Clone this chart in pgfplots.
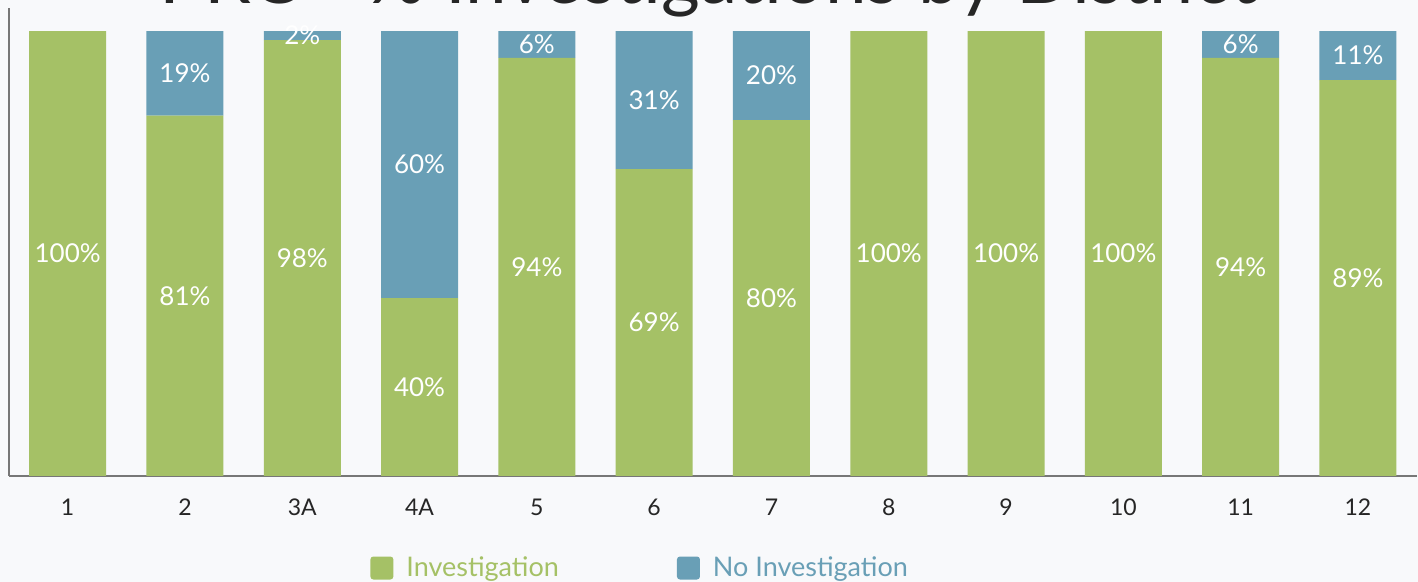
\documentclass[border=0pt]{standalone}
\usepackage{pgfplots}
\pgfplotsset{compat=1.18}
\usepackage{fontspec}
\setmainfont{Lato}
\definecolor{bgcol}{HTML}{F8F9FB}
\definecolor{invgreen}{HTML}{A5C166}
\definecolor{noblue}{HTML}{699FB6}
\definecolor{axgray}{HTML}{777777}
\definecolor{txt}{HTML}{262626}
\begin{document}
\begin{tikzpicture}
\fill[bgcol] (0,0) rectangle (709pt,291pt);
\node[anchor=base, font=\fontsize{37.3}{40}\selectfont, text=txt, inner sep=0pt] at (354pt,289pt) {PRC - \% Investigations by District};
\begin{axis}[
  at={(4.5pt,53pt)}, anchor=south west,
  scale only axis, width=703.8pt, height=234pt,
  ybar stacked, bar width=38.5pt,
  xmin=-0.5, xmax=11.5, ymin=0, ymax=105.2,
  axis x line*=bottom, axis y line*=left,
  axis line style={axgray, line width=0.75pt, -},
  ytick=\empty,
  xtick={0,...,11},
  xticklabels={1,2,3A,4A,5,6,7,8,9,10,11,12},
  major tick length=0pt,
  xticklabel style={font=\fontsize{11.5}{13}\selectfont, text=txt, yshift=-8pt},
  point meta=explicit symbolic,
  nodes near coords={\ifnum\pgfplotspointmeta=0 \else\pgfplotspointmeta\%\fi},
  every node near coord/.append style={anchor=center, text=white, font=\fontsize{13}{15}\selectfont},
  legend columns=2,
  legend style={at={(axis description cs:0.2522,-0.1966)}, anchor=west, draw=none, fill=none,
    font=\fontsize{13.5}{15}\selectfont,
    /tikz/every even column/.append style={column sep=57pt}},
  legend image code/.code={\fill[#1, rounded corners=1.5pt] (0pt,-5.75pt) rectangle (11.5pt,5.75pt); \path (16pt,0pt);},
]
\addplot+[fill=invgreen, draw=none] coordinates {
 (0,100) [100] (1,81) [81] (2,98) [98] (3,40) [40] (4,94) [94] (5,69) [69]
 (6,80) [80] (7,100) [100] (8,100) [100] (9,100) [100] (10,94) [94] (11,89) [89]};
\addplot+[fill=noblue, draw=none] coordinates {
 (0,0) [0] (1,19) [19] (2,2) [2] (3,60) [60] (4,6) [6] (5,31) [31]
 (6,20) [20] (7,0) [0] (8,0) [0] (9,0) [0] (10,6) [6] (11,11) [11]};
\legend{\textcolor{invgreen}{Investigation},\textcolor{noblue}{No Investigation}}
\end{axis}
\pgfresetboundingbox
\useasboundingbox (0,0) rectangle (709pt,291pt);
\end{tikzpicture}
\end{document}
